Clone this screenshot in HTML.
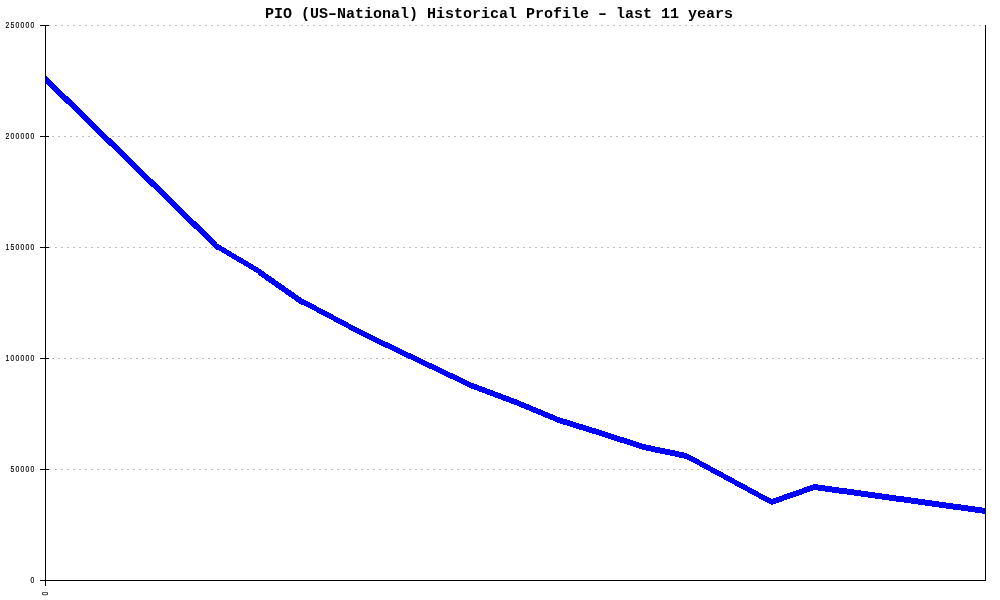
<!DOCTYPE html>
<html><head><meta charset="utf-8"><title>PIO (US-National) Historical Profile</title>
<style>
html,body{margin:0;padding:0;background:#fff;}
body{width:1000px;height:600px;overflow:hidden;}
svg{display:block;}
.t{font-family:"Liberation Mono","DejaVu Sans Mono",monospace;font-weight:bold;font-size:15px;fill:#000;}
.l{font-family:"Liberation Sans","DejaVu Sans",sans-serif;font-size:8.5px;letter-spacing:1.52px;fill:#000;stroke:#000;stroke-width:0.18px;}
</style></head><body>
<svg width="1000" height="600" viewBox="0 0 1000 600">
<rect width="1000" height="600" fill="#fff"/>
<g shape-rendering="crispEdges">
<g stroke="#bebebe" stroke-width="1" stroke-dasharray="2 4">
<line x1="49" y1="25.5" x2="985" y2="25.5"/>
<line x1="52" y1="136.5" x2="985" y2="136.5"/>
<line x1="49" y1="247.5" x2="985" y2="247.5"/>
<line x1="52" y1="358.5" x2="985" y2="358.5"/>
<line x1="49" y1="469.5" x2="985" y2="469.5"/>
</g>
<path fill="#0000ff" d="M45 75h1v8h-1zM46 76h1v8h-1zM47 77h1v8h-1zM48 78h1v8h-1zM49 79h1v8h-1zM50 80h1v8h-1zM51 81h1v8h-1zM52 82h1v8h-1zM53 83h1v8h-1zM54 84h1v8h-1zM55 85h1v8h-1zM56 86h1v8h-1zM57 87h1v8h-1zM58 88h1v8h-1zM59 89h1v8h-1zM60 90h1v8h-1zM61 91h1v8h-1zM62 92h1v8h-1zM63 93h1v8h-1zM64 94h1v8h-1zM65 95h1v8h-1zM66 96h2v8h-2zM68 97h1v8h-1zM69 98h1v8h-1zM70 99h1v8h-1zM71 100h1v8h-1zM72 101h1v8h-1zM73 102h1v8h-1zM74 103h1v8h-1zM75 104h1v8h-1zM76 105h1v8h-1zM77 106h1v8h-1zM78 107h1v8h-1zM79 108h1v8h-1zM80 109h1v8h-1zM81 110h1v8h-1zM82 111h1v8h-1zM83 112h1v8h-1zM84 113h1v8h-1zM85 114h1v8h-1zM86 115h1v8h-1zM87 116h1v8h-1zM88 117h1v8h-1zM89 118h1v8h-1zM90 119h1v8h-1zM91 120h1v8h-1zM92 121h1v8h-1zM93 122h1v8h-1zM94 123h1v8h-1zM95 124h1v8h-1zM96 125h1v8h-1zM97 126h1v8h-1zM98 127h1v8h-1zM99 128h1v8h-1zM100 129h1v8h-1zM101 130h1v8h-1zM102 131h1v8h-1zM103 132h1v8h-1zM104 133h1v8h-1zM105 134h1v8h-1zM106 135h1v8h-1zM107 136h1v8h-1zM108 137h1v8h-1zM109 138h2v8h-2zM111 139h1v8h-1zM112 140h1v8h-1zM113 141h1v8h-1zM114 142h1v8h-1zM115 143h1v8h-1zM116 144h1v8h-1zM117 145h1v8h-1zM118 146h1v8h-1zM119 147h1v8h-1zM120 148h1v8h-1zM121 149h1v8h-1zM122 150h1v8h-1zM123 151h1v8h-1zM124 152h1v8h-1zM125 153h1v8h-1zM126 154h1v8h-1zM127 155h1v8h-1zM128 156h1v8h-1zM129 157h1v8h-1zM130 158h1v8h-1zM131 159h1v8h-1zM132 160h1v8h-1zM133 161h1v8h-1zM134 162h1v8h-1zM135 163h1v8h-1zM136 164h1v8h-1zM137 165h1v8h-1zM138 166h1v8h-1zM139 167h1v8h-1zM140 168h1v8h-1zM141 169h1v8h-1zM142 170h1v8h-1zM143 171h1v8h-1zM144 172h1v8h-1zM145 173h1v8h-1zM146 174h1v8h-1zM147 175h1v8h-1zM148 176h1v8h-1zM149 177h1v8h-1zM150 178h1v8h-1zM151 179h2v8h-2zM153 180h1v8h-1zM154 181h1v8h-1zM155 182h1v8h-1zM156 183h1v8h-1zM157 184h1v8h-1zM158 185h1v8h-1zM159 186h1v8h-1zM160 187h1v8h-1zM161 188h1v8h-1zM162 189h1v8h-1zM163 190h1v8h-1zM164 191h1v8h-1zM165 192h1v8h-1zM166 193h1v8h-1zM167 194h1v8h-1zM168 195h1v8h-1zM169 196h1v8h-1zM170 197h1v8h-1zM171 198h1v8h-1zM172 199h1v8h-1zM173 200h1v8h-1zM174 201h1v8h-1zM175 202h1v8h-1zM176 203h1v8h-1zM177 204h1v8h-1zM178 205h1v8h-1zM179 206h1v8h-1zM180 207h1v8h-1zM181 208h1v8h-1zM182 209h1v8h-1zM183 210h1v8h-1zM184 211h1v8h-1zM185 212h1v8h-1zM186 213h1v8h-1zM187 214h1v8h-1zM188 215h1v8h-1zM189 216h1v8h-1zM190 217h1v8h-1zM191 218h1v8h-1zM192 219h1v8h-1zM193 220h1v8h-1zM194 221h2v8h-2zM196 222h1v8h-1zM197 223h1v8h-1zM198 224h1v8h-1zM199 225h1v8h-1zM200 226h1v8h-1zM201 227h1v8h-1zM202 228h1v8h-1zM203 229h1v8h-1zM204 230h1v8h-1zM205 231h1v8h-1zM206 232h1v8h-1zM207 233h1v8h-1zM208 234h1v8h-1zM209 235h1v8h-1zM210 236h1v8h-1zM211 237h1v8h-1zM212 238h1v8h-1zM213 239h1v8h-1zM214 240h1v8h-1zM215 241h1v8h-1zM216 242h1v8h-1zM217 244h2v6h-2zM219 245h2v6h-2zM221 246h1v6h-1zM222 247h2v6h-2zM224 248h2v6h-2zM226 249h1v6h-1zM227 250h2v6h-2zM229 251h2v6h-2zM231 252h1v6h-1zM232 253h2v6h-2zM234 254h2v6h-2zM236 255h1v6h-1zM237 256h2v6h-2zM239 257h2v6h-2zM241 258h2v6h-2zM243 259h1v6h-1zM244 260h2v6h-2zM246 261h2v6h-2zM248 262h1v6h-1zM249 263h2v6h-2zM251 264h2v6h-2zM253 265h1v6h-1zM254 266h2v6h-2zM256 267h2v6h-2zM258 268h1v7h-1zM259 269h2v7h-2zM261 270h1v7h-1zM262 271h2v7h-2zM264 272h1v7h-1zM265 273h1v7h-1zM266 274h2v7h-2zM268 275h1v7h-1zM269 276h2v7h-2zM271 277h1v7h-1zM272 278h2v7h-2zM274 279h1v7h-1zM275 280h1v7h-1zM276 281h2v7h-2zM278 282h1v7h-1zM279 283h2v7h-2zM281 284h1v7h-1zM282 285h2v7h-2zM284 286h1v7h-1zM285 287h1v7h-1zM286 288h2v7h-2zM288 289h1v7h-1zM289 290h2v7h-2zM291 291h1v7h-1zM292 292h2v7h-2zM294 293h1v7h-1zM295 294h1v7h-1zM296 295h2v7h-2zM298 296h1v7h-1zM299 297h2v7h-2zM301 298h1v7h-1zM302 299h2v6h-2zM304 300h2v6h-2zM306 301h2v6h-2zM308 302h2v6h-2zM310 303h2v6h-2zM312 304h2v6h-2zM314 305h2v6h-2zM316 306h1v6h-1zM317 307h2v6h-2zM319 308h2v6h-2zM321 309h2v6h-2zM323 310h2v6h-2zM325 311h2v6h-2zM327 312h2v6h-2zM329 313h2v6h-2zM331 314h2v6h-2zM333 315h1v6h-1zM334 316h2v6h-2zM336 317h2v6h-2zM338 318h2v6h-2zM340 319h2v6h-2zM342 320h2v6h-2zM344 321h2v6h-2zM346 322h2v6h-2zM348 323h1v6h-1zM349 324h2v6h-2zM351 325h2v6h-2zM353 326h2v6h-2zM355 327h2v6h-2zM357 328h2v6h-2zM359 329h2v6h-2zM361 330h2v6h-2zM363 331h2v6h-2zM365 332h2v6h-2zM367 333h2v6h-2zM369 334h2v6h-2zM371 335h2v6h-2zM373 336h2v6h-2zM375 337h2v6h-2zM377 338h2v6h-2zM379 339h2v6h-2zM381 340h2v6h-2zM383 341h2v6h-2zM385 342h3v6h-3zM388 343h2v6h-2zM390 344h2v6h-2zM392 345h2v6h-2zM394 346h2v6h-2zM396 347h2v6h-2zM398 348h2v6h-2zM400 349h2v6h-2zM402 350h2v6h-2zM404 351h2v6h-2zM406 352h2v6h-2zM408 353h3v6h-3zM411 354h2v6h-2zM413 355h2v6h-2zM415 356h2v6h-2zM417 357h2v6h-2zM419 358h2v6h-2zM421 359h2v6h-2zM423 360h2v6h-2zM425 361h2v6h-2zM427 362h2v6h-2zM429 363h3v6h-3zM432 364h2v6h-2zM434 365h2v6h-2zM436 366h2v6h-2zM438 367h2v6h-2zM440 368h2v6h-2zM442 369h2v6h-2zM444 370h2v6h-2zM446 371h2v6h-2zM448 372h2v6h-2zM450 373h3v6h-3zM453 374h2v6h-2zM455 375h2v6h-2zM457 376h2v6h-2zM459 377h2v6h-2zM461 378h2v6h-2zM463 379h2v6h-2zM465 380h2v6h-2zM467 381h2v6h-2zM469 382h2v6h-2zM471 383h3v6h-3zM474 384h3v6h-3zM477 385h2v6h-2zM479 386h3v6h-3zM482 387h3v6h-3zM485 388h2v6h-2zM487 389h3v6h-3zM490 390h3v6h-3zM493 391h2v6h-2zM495 392h3v6h-3zM498 393h3v6h-3zM501 394h2v6h-2zM503 395h3v6h-3zM506 396h3v6h-3zM509 397h2v6h-2zM511 398h3v6h-3zM514 399h3v6h-3zM517 400h2v6h-2zM519 401h2v6h-2zM521 402h3v6h-3zM524 403h2v6h-2zM526 404h3v6h-3zM529 405h2v6h-2zM531 406h2v6h-2zM533 407h3v6h-3zM536 408h2v6h-2zM538 409h3v6h-3zM541 410h2v6h-2zM543 411h2v6h-2zM545 412h3v6h-3zM548 413h2v6h-2zM550 414h3v6h-3zM553 415h2v6h-2zM555 416h2v6h-2zM557 417h3v6h-3zM560 418h3v6h-3zM563 419h4v6h-4zM567 420h3v6h-3zM570 421h3v6h-3zM573 422h3v6h-3zM576 423h3v6h-3zM579 424h4v6h-4zM583 425h3v6h-3zM586 426h3v6h-3zM589 427h3v6h-3zM592 428h4v6h-4zM596 429h3v6h-3zM599 430h3v6h-3zM602 431h3v6h-3zM605 432h3v6h-3zM608 433h3v6h-3zM611 434h3v6h-3zM614 435h3v6h-3zM617 436h3v6h-3zM620 437h4v6h-4zM624 438h3v6h-3zM627 439h3v6h-3zM630 440h3v6h-3zM633 441h3v6h-3zM636 442h3v6h-3zM639 443h3v6h-3zM642 444h4v6h-4zM646 445h5v6h-5zM651 446h4v6h-4zM655 447h5v6h-5zM660 448h5v6h-5zM665 449h5v6h-5zM670 450h5v6h-5zM675 451h4v6h-4zM679 452h5v6h-5zM684 453h3v6h-3zM687 454h2v6h-2zM689 455h2v6h-2zM691 456h2v6h-2zM693 457h2v6h-2zM695 458h2v6h-2zM697 459h2v6h-2zM699 460h1v6h-1zM700 461h2v6h-2zM702 462h2v6h-2zM704 463h2v6h-2zM706 464h2v6h-2zM708 465h2v6h-2zM710 466h1v6h-1zM711 467h2v6h-2zM713 468h2v6h-2zM715 469h2v6h-2zM717 470h2v6h-2zM719 471h2v6h-2zM721 472h2v6h-2zM723 473h1v6h-1zM724 474h2v6h-2zM726 475h2v6h-2zM728 476h2v6h-2zM730 477h2v6h-2zM732 478h2v6h-2zM734 479h1v6h-1zM735 480h2v6h-2zM737 481h2v6h-2zM739 482h2v6h-2zM741 483h2v6h-2zM743 484h2v6h-2zM745 485h2v6h-2zM747 486h1v6h-1zM748 487h2v6h-2zM750 488h2v6h-2zM752 489h2v6h-2zM754 490h2v6h-2zM756 491h2v6h-2zM758 492h1v6h-1zM759 493h2v6h-2zM761 494h2v6h-2zM763 495h2v6h-2zM765 496h2v6h-2zM767 497h2v6h-2zM769 498h2v6h-2zM771 499h2v6h-2zM773 498h3v6h-3zM776 497h3v6h-3zM779 496h3v6h-3zM782 495h2v6h-2zM784 494h3v6h-3zM787 493h3v6h-3zM790 492h3v6h-3zM793 491h3v6h-3zM796 490h3v6h-3zM799 489h3v6h-3zM802 488h2v6h-2zM804 487h3v6h-3zM807 486h3v6h-3zM810 485h3v6h-3zM813 484h5v6h-5zM818 485h7v6h-7zM825 486h7v6h-7zM832 487h7v6h-7zM839 488h8v6h-8zM847 489h7v6h-7zM854 490h7v6h-7zM861 491h7v6h-7zM868 492h7v6h-7zM875 493h7v6h-7zM882 494h7v6h-7zM889 495h7v6h-7zM896 496h8v6h-8zM904 497h7v6h-7zM911 498h7v6h-7zM918 499h7v6h-7zM925 500h7v6h-7zM932 501h7v6h-7zM939 502h7v6h-7zM946 503h7v6h-7zM953 504h8v6h-8zM961 505h7v6h-7zM968 506h7v6h-7zM975 507h7v6h-7zM982 508h4v6h-4z"/>
<g fill="#000">
<rect x="45" y="25" width="1" height="561"/>
<rect x="985" y="25" width="1" height="556"/>
<rect x="40" y="580" width="946" height="1"/>
<rect x="40" y="25" width="9" height="1"/>
<rect x="40" y="136" width="9" height="1"/>
<rect x="40" y="247" width="9" height="1"/>
<rect x="40" y="358" width="9" height="1"/>
<rect x="40" y="469" width="9" height="1"/>
</g></g>
<text class="t" x="265" y="18">PIO (US<tspan dx="-2.2" textLength="13.4" lengthAdjust="spacingAndGlyphs">-</tspan><tspan dx="-2.2">National) Historical Profile </tspan><tspan dx="-2.2" textLength="13.4" lengthAdjust="spacingAndGlyphs">-</tspan><tspan dx="-2.2"> last 11 years</tspan></text>
<text class="l" transform="translate(35.4,28) scale(0.8,1)" text-anchor="end">250000</text>
<text class="l" transform="translate(35.4,139) scale(0.8,1)" text-anchor="end">200000</text>
<text class="l" transform="translate(35.4,250) scale(0.8,1)" text-anchor="end">150000</text>
<text class="l" transform="translate(35.4,361) scale(0.8,1)" text-anchor="end">100000</text>
<text class="l" transform="translate(35.4,472) scale(0.8,1)" text-anchor="end">50000</text>
<text class="l" transform="translate(35.4,583) scale(0.8,1)" text-anchor="end">0</text>
<text class="l" transform="translate(48,595.6) rotate(-90) scale(0.8,1)">0</text>
</svg></body></html>
